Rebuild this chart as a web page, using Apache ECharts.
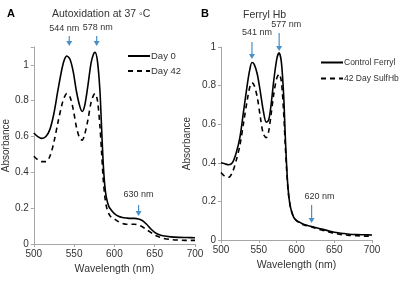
<!DOCTYPE html>
<html>
<head>
<meta charset="utf-8">
<script src="https://cdn.jsdelivr.net/npm/echarts@6/dist/echarts.min.js"></script>
<style>
  html, body { margin: 0; padding: 0; background: #fff; }
  #chart { width: 400px; height: 281px; }
</style>
</head>
<body>
<div id="chart"></div>
<script>
// panel A - autoxidation
const wlA = [500, 505, 510, 515, 520, 525, 530, 535, 538, 541, 545, 549, 553, 557, 560, 563, 567, 571, 574, 576, 579, 582, 584, 586, 588, 590, 593, 596, 600, 605, 610, 615, 620, 625, 630, 635, 640, 645, 650, 655, 660, 670, 680, 690, 700]
const day0 = [0.62, 0.60, 0.59, 0.60, 0.64, 0.73, 0.86, 0.98, 1.03, 1.05, 1.03, 0.96, 0.85, 0.77, 0.74, 0.77, 0.88, 1.01, 1.06, 1.07, 1.02, 0.86, 0.66, 0.46, 0.33, 0.26, 0.21, 0.19, 0.17, 0.155, 0.148, 0.145, 0.143, 0.143, 0.14, 0.13, 0.11, 0.085, 0.065, 0.053, 0.046, 0.04, 0.037, 0.036, 0.035]
const day42 = [0.49, 0.47, 0.46, 0.46, 0.49, 0.57, 0.68, 0.78, 0.82, 0.84, 0.82, 0.75, 0.65, 0.59, 0.58, 0.61, 0.69, 0.79, 0.83, 0.84, 0.8, 0.66, 0.52, 0.37, 0.27, 0.21, 0.17, 0.15, 0.14, 0.125, 0.115, 0.11, 0.11, 0.11, 0.105, 0.095, 0.08, 0.065, 0.05, 0.04, 0.032, 0.025, 0.022, 0.02, 0.02]

// panel B - ferryl Hb
const wlB = [500, 505, 510, 515, 520, 525, 530, 535, 538, 541, 544, 548, 552, 556, 560, 563, 566, 570, 574, 577, 580, 583, 585, 587, 589, 592, 596, 600, 605, 610, 620, 630, 640, 650, 660, 670, 680, 690, 700]
const ferryl = [0.40, 0.395, 0.39, 0.40, 0.45, 0.53, 0.67, 0.81, 0.88, 0.92, 0.91, 0.86, 0.77, 0.67, 0.61, 0.62, 0.69, 0.83, 0.94, 0.97, 0.92, 0.75, 0.55, 0.38, 0.26, 0.17, 0.12, 0.1, 0.09, 0.08, 0.07, 0.06, 0.05, 0.04, 0.035, 0.03, 0.028, 0.027, 0.026]
const sulfHb = [0.35, 0.33, 0.325, 0.35, 0.41, 0.49, 0.61, 0.73, 0.79, 0.815, 0.8, 0.74, 0.64, 0.55, 0.53, 0.56, 0.64, 0.76, 0.84, 0.86, 0.82, 0.66, 0.5, 0.36, 0.25, 0.17, 0.12, 0.1, 0.088, 0.078, 0.068, 0.055, 0.045, 0.035, 0.028, 0.024, 0.022, 0.02, 0.02]

// peak annotations: [wavelength, label]
const peaksA = [[544, '544 nm'], [578, '578 nm'], [630, '630 nm']]
const peaksB = [[541, '541 nm'], [577, '577 nm'], [620, '620 nm']]

const FONT = '"Liberation Sans", Arial, sans-serif'
const AXIS_COLOR = '#a6a6a6'
const TEXT_COLOR = '#333'

const pairs = (xs, ys) => xs.map((x, i) => [x, ys[i]])

const xAxisCfg = (gridIndex, gap) => ({
    type: 'value', gridIndex, min: 500, max: 700, interval: 50,
    name: 'Wavelength (nm)', nameLocation: 'middle', nameGap: gap,
    nameTextStyle: { fontFamily: FONT, fontSize: 10.5, color: TEXT_COLOR },
    axisLine: { lineStyle: { color: AXIS_COLOR } },
    axisTick: { show: true, length: 3, lineStyle: { color: AXIS_COLOR } },
    axisLabel: { fontFamily: FONT, fontSize: 10, color: TEXT_COLOR, margin: 5 },
    splitLine: { show: false }
})
const yAxisCfg = (gridIndex, max, gap) => ({
    type: 'value', gridIndex, min: 0, max, interval: 0.2,
    name: 'Absorbance', nameLocation: 'middle', nameGap: gap,
    nameTextStyle: { fontFamily: FONT, fontSize: 10, color: TEXT_COLOR },
    axisLine: { show: true, lineStyle: { color: AXIS_COLOR } },
    axisTick: { show: true, length: 3, lineStyle: { color: AXIS_COLOR } },
    axisLabel: {
        fontFamily: FONT, fontSize: 10, color: TEXT_COLOR, margin: 5,
        formatter: v => (Math.round(v * 10) % 2 === 0 ? String(+v.toFixed(1)) : '')
    },
    splitLine: { show: false }
})
const lineSeries = (name, idx, xs, ys, dashed) => ({
    name, type: 'line', xAxisIndex: idx, yAxisIndex: idx,
    data: pairs(xs, ys), smooth: 0.3, symbol: 'none',
    lineStyle: { color: '#000', width: 1.6, type: dashed ? [5, 4] : 'solid' },
    itemStyle: { color: '#000' }
})
// legend: line only, the symbol is hidden, text pulled close to the line
const legendCfg = (names, left, top, gap, size) => ({
    data: names, orient: 'vertical', left, top, itemGap: gap, padding: 0,
    itemWidth: 22, itemHeight: 10,
    itemStyle: { opacity: 0 },
    textStyle: { fontFamily: FONT, fontSize: size, color: TEXT_COLOR, padding: [0, 0, 0, -4] }
})

const chart = echarts.init(document.getElementById('chart'))
chart.setOption({
    animation: false,
    backgroundColor: '#fff',
    title: [
        { text: 'A', left: 2, top: 3, textStyle: { fontFamily: FONT, fontSize: 11, fontWeight: 'bold', color: '#000' } },
        { text: 'Autoxidation at 37 ◦C', left: 47, top: 4, textStyle: { fontFamily: FONT, fontSize: 10.5, fontWeight: 'normal', color: TEXT_COLOR } },
        { text: 'B', left: 196, top: 3, textStyle: { fontFamily: FONT, fontSize: 11, fontWeight: 'bold', color: '#000' } },
        { text: 'Ferryl Hb', left: 238, top: 5, textStyle: { fontFamily: FONT, fontSize: 10.5, fontWeight: 'normal', color: TEXT_COLOR } }
    ],
    legend: [
        legendCfg(['Day 0', 'Day 42'], 127, 51, 5, 9.5),
        legendCfg(['Control Ferryl', '42 Day SulfHb'], 320, 58, 7, 8.5)
    ],
    grid: [
        { left: 31, top: 47, width: 164, height: 197 },
        { left: 221, top: 47, width: 151, height: 193 }
    ],
    xAxis: [xAxisCfg(0, 19), xAxisCfg(1, 20)],
    yAxis: [yAxisCfg(0, 1.1, 22), yAxisCfg(1, 1.0, 29)],
    series: [
        lineSeries('Day 0', 0, wlA, day0, false),
        lineSeries('Day 42', 0, wlA, day42, true),
        lineSeries('Control Ferryl', 1, wlB, ferryl, false),
        lineSeries('42 Day SulfHb', 1, wlB, sulfHb, true)
    ]
})

// arrows + labels above the peaks, placed from the data axes
const ARROW = '#4a90c8'
const arrow = (x, y1, y2, text, tx, ty) => ({
    type: 'group',
    children: [
        { type: 'text', x: x + tx, y: ty, style: { text, fontFamily: FONT, fontSize: 9, fill: TEXT_COLOR, align: 'center', verticalAlign: 'middle' } },
        { type: 'line', shape: { x1: x, y1, x2: x, y2: y2 - 3 }, style: { stroke: ARROW, lineWidth: 1.2 } },
        { type: 'polygon', shape: { points: [[x - 3, y2 - 5], [x + 3, y2 - 5], [x, y2]] }, style: { fill: ARROW } }
    ]
})
const px = (grid, wl) => chart.convertToPixel({ gridIndex: grid }, [wl, 0])[0]
chart.setOption({
    graphic: [
        arrow(px(0, peaksA[0][0]), 36, 46, peaksA[0][1], -5, 29),
        arrow(px(0, peaksA[1][0]), 36, 46, peaksA[1][1], 1, 28),
        arrow(px(0, peaksA[2][0]), 205, 216, peaksA[2][1], 0, 195),
        arrow(px(1, peaksB[0][0]), 42, 59, peaksB[0][1], 5, 33),
        arrow(px(1, peaksB[1][0]), 33, 51, peaksB[1][1], 7, 25),
        arrow(px(1, peaksB[2][0]), 205, 223, peaksB[2][1], 8, 197)
    ]
})
</script>
</body>
</html>
